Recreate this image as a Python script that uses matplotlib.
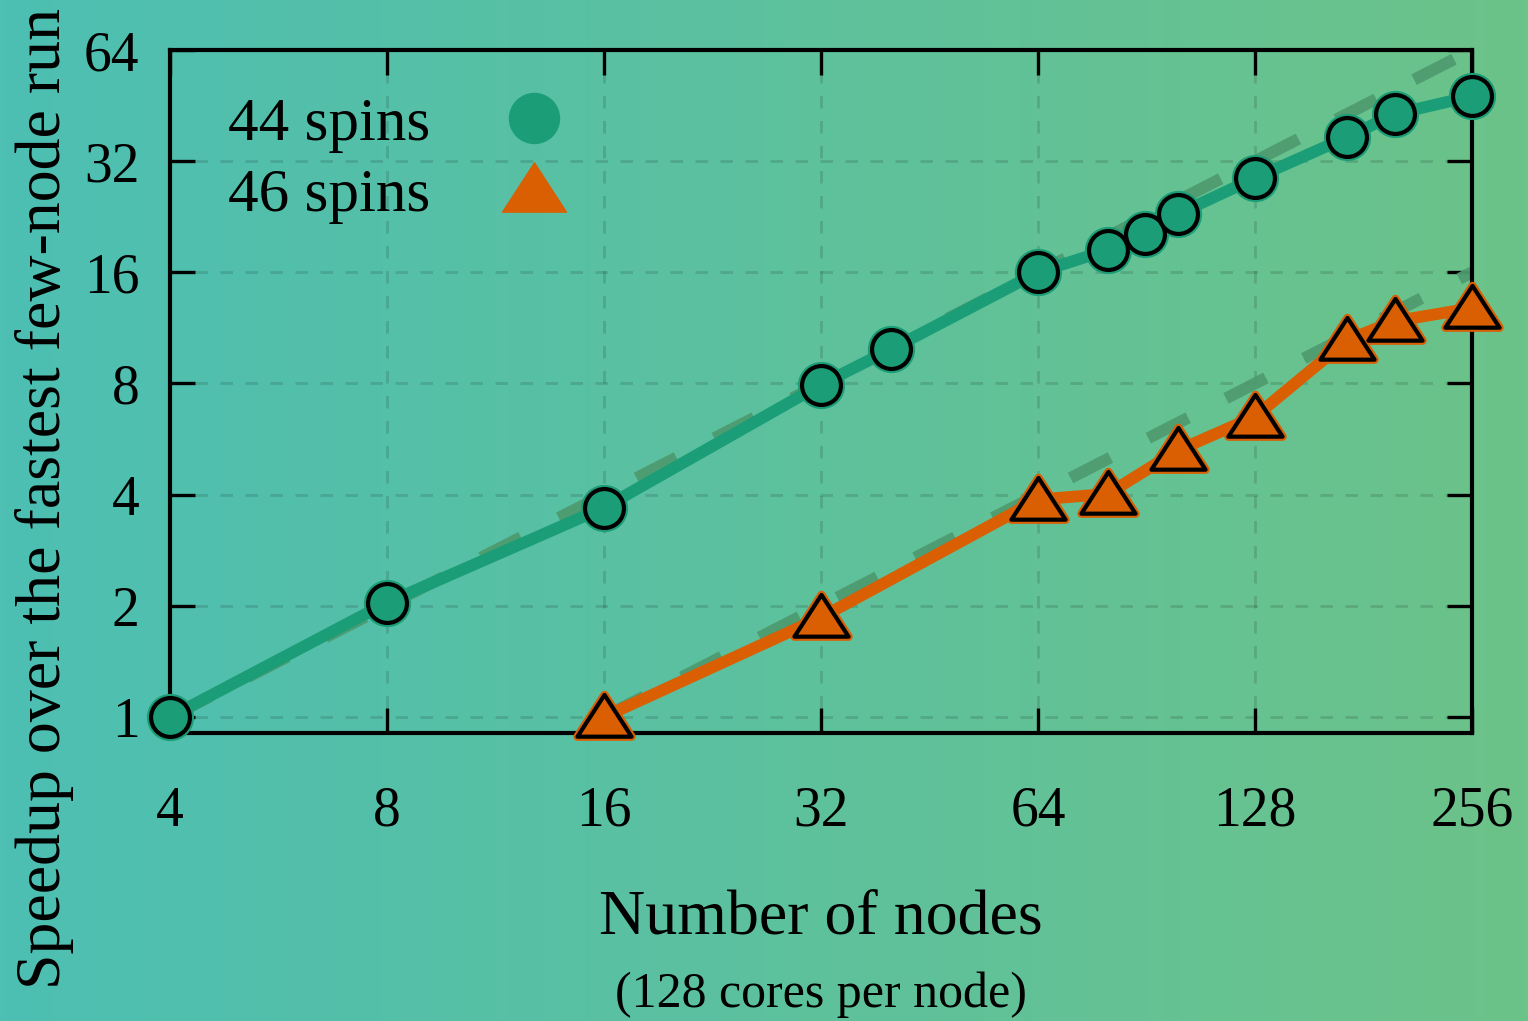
"""Strong scaling: speedup vs node count for the 44- and 46-spin runs."""

import matplotlib.pyplot as plt
import numpy as np
from matplotlib.lines import Line2D
from matplotlib.path import Path

GREEN = "#1b9e77"
ORANGE = "#d95f02"
IDEAL = "#4e9b70"

nodes_44 = [4, 8, 16, 32, 40, 64, 80, 90, 100, 128, 172, 200, 256]
speedup_44 = [1.0, 2.04, 3.69, 7.95, 9.9, 16.0, 18.4, 20.3, 23.0, 28.8, 37.2, 42.9, 48.0]

nodes_46 = [16, 32, 64, 80, 100, 128, 172, 200, 256]
speedup_46 = [1.0, 1.86, 3.88, 4.02, 5.27, 6.51, 10.5, 11.8, 12.8]

xticks = [4, 8, 16, 32, 64, 128, 256]
yticks = [1, 2, 4, 8, 16, 32, 64]

plt.rcParams["font.family"] = ["Liberation Serif", "DejaVu Serif"]

fig = plt.figure(figsize=(15.28, 10.21), dpi=100)

# horizontal teal -> green backdrop
bg = fig.add_axes([0, 0, 1, 1], zorder=-10)
c0 = np.array([0x4d, 0xbf, 0xb3]) / 255
c1 = np.array([0x6c, 0xc3, 0x89]) / 255
t = np.linspace(0, 1, 256)[None, :, None]
bg.imshow(c0 + (c1 - c0) * t, aspect="auto", extent=[0, 1, 0, 1])
bg.set_axis_off()

ax = fig.add_axes([170 / 1528, 1 - 733 / 1021, 1302 / 1528, 683 / 1021])
ax.set_facecolor("none")
ax.set_xscale("log", base=2)
ax.set_yscale("log", base=2)
ax.set_xlim(4, 256)
ax.set_ylim(0.905, 64)

# ideal scaling references
for xs, ys in ((nodes_44, speedup_44), (nodes_46, speedup_46)):
    x0, x1 = xs[0], xs[-1]
    ax.plot([x0, x1], [ys[0], ys[0] * x1 / x0], color=IDEAL, lw=8.5,
            dashes=(3.8, 3.6), alpha=0.95, zorder=2, solid_capstyle="butt")

tri = Path([(0, 1.0), (-1.2, -0.85), (1.2, -0.85), (0, 1.0)],
           [Path.MOVETO, Path.LINETO, Path.LINETO, Path.CLOSEPOLY])

ax.plot(nodes_44, speedup_44, color=GREEN, lw=8.5, zorder=3)
ax.plot(nodes_44, speedup_44, ls="none", marker="o", ms=28, mfc=GREEN,
        mec=GREEN, mew=6, zorder=4, clip_on=False)
ax.plot(nodes_44, speedup_44, ls="none", marker="o", ms=28, mfc=GREEN,
        mec="black", mew=3, zorder=5, clip_on=False)

ax.plot(nodes_46, speedup_46, color=ORANGE, lw=8.5, zorder=3)
ax.plot(nodes_46, speedup_46, ls="none", marker=tri, ms=39, mfc=ORANGE,
        mec=ORANGE, mew=6, zorder=4, clip_on=False)
ax.plot(nodes_46, speedup_46, ls="none", marker=tri, ms=39, mfc=ORANGE,
        mec="black", mew=3, zorder=5, clip_on=False)

ax.set_xticks(xticks)
ax.set_xticklabels([str(v) for v in xticks])
ax.set_yticks(yticks)
ax.set_yticklabels([str(v) for v in yticks])
ax.minorticks_off()
ax.tick_params(direction="in", length=18, width=2.4, top=True, right=True,
               labelsize=40, colors="black")
ax.tick_params(axis="x", pad=38)
ax.tick_params(axis="y", pad=22)
for s in ax.spines.values():
    s.set_linewidth(3)
ax.grid(True, color="black", alpha=0.13, lw=2, ls=(0, (4.5, 4.5)))

fig.text(0.537, 1 - 918 / 1021, "Number of nodes", ha="center", va="center",
         fontsize=46)
fig.text(0.537, 1 - 995 / 1021, "(128 cores per node)", ha="center", va="center",
         fontsize=36)
fig.text(45 / 1528, 1 - 498 / 1021, "Speedup over the fastest few-node run",
         rotation=90, ha="center", va="center", fontsize=46)

handles = [Line2D([], [], ls="none", marker="o", ms=36, mfc=GREEN, mec=GREEN),
           Line2D([], [], ls="none", marker=tri, ms=46, mfc=ORANGE, mec=ORANGE)]
ax.legend(handles, ["44 spins", "46 spins"], loc="upper left", frameon=False,
          markerfirst=False, fontsize=44, bbox_to_anchor=(0.026, 0.967),
          handletextpad=0.7, labelspacing=0.25, borderaxespad=0)

fig.savefig("out.png", dpi=100)
